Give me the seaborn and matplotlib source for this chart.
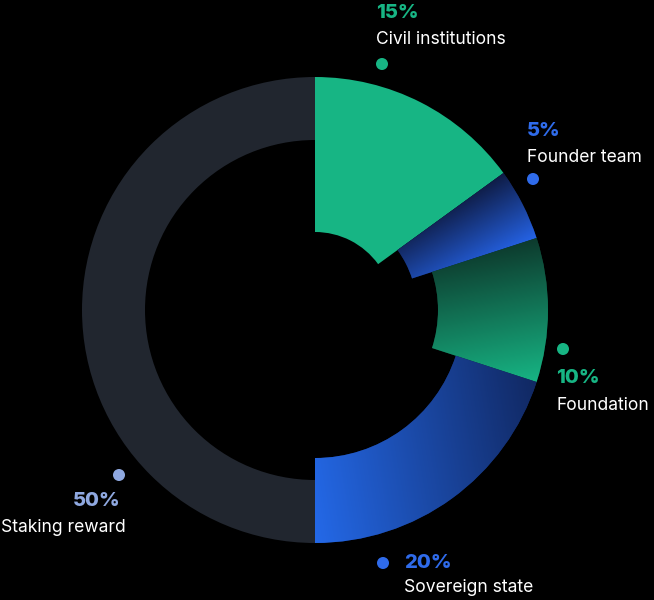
import numpy as np
import matplotlib
matplotlib.use("Agg")
import matplotlib.pyplot as plt
import seaborn as sns
from matplotlib.patches import Wedge
from matplotlib.colors import LinearSegmentedColormap

# Data (clockwise from 12 o'clock)
categories = ["Civil institutions", "Founder team", "Foundation", "Sovereign state", "Staking reward"]
shares = [15, 5, 10, 20, 50]

# Styling per slice
inner_radius = [78, 102, 123, 148, 170]
dark_colors = ["#17b584", "#0f1c45", "#0d3a2d", "#112862", "#21262f"]
bright_colors = ["#17b584", "#2563e6", "#17b584", "#2469e8", "#21262f"]
grad_angle = [None, -60, -80, 190, None]   # direction dark -> bright (deg)
pct_colors = ["#17b584", "#2f6bea", "#17b584", "#2f6bea", "#8fa8e0"]
# label anchors in pixels (x, y from top): dot, percent, name
dot_xy = [(382, 64), (533, 179), (563, 349), (383, 563), (119, 475)]
pct_xy = [(376, 13), (527, 131), (556, 378), (404, 563), (73, 501)]
name_xy = [(376, 40), (527, 158), (556, 405), (404, 588), (1, 527)]

W, H = 654, 600
CX, CY, R = 315, H - 310, 233

sns.set_theme(style="dark", rc={"figure.facecolor": "black", "axes.facecolor": "black"})
plt.rcParams["font.family"] = ["Inter", "DejaVu Sans"]

fig = plt.figure(figsize=(W / 100, H / 100), dpi=100)
ax = fig.add_axes([0, 0, 1, 1])
ax.set_xlim(0, W)
ax.set_ylim(0, H)
ax.set_aspect("equal")
ax.axis("off")

xx, yy = np.meshgrid(np.arange(W) + 0.5, np.arange(H) + 0.5)

total = float(sum(shares))
start = 0.0
for i, (cat, val) in enumerate(zip(categories, shares)):
    end = start + val / total
    t1 = 90 - 360 * end
    t2 = 90 - 360 * start
    wedge = Wedge((CX, CY), R, t1, t2, width=R - inner_radius[i],
                  facecolor=bright_colors[i] if grad_angle[i] is None else dark_colors[i],
                  edgecolor="none", antialiased=True)
    ax.add_patch(wedge)
    if grad_angle[i] is not None:
        a = np.deg2rad(grad_angle[i])
        d = np.array([np.cos(a), np.sin(a)])
        verts = wedge.get_path().vertices
        proj = verts @ d
        field = (xx * d[0] + yy * d[1] - proj.min()) / (proj.max() - proj.min())
        cmap = LinearSegmentedColormap.from_list(f"g{i}", [dark_colors[i], bright_colors[i]])
        im = ax.imshow(np.clip(field, 0, 1), cmap=cmap, vmin=0, vmax=1,
                       extent=(0, W, 0, H), origin="lower", interpolation="bilinear", zorder=2)
        clip = Wedge((CX, CY), R, t1, t2, width=R - inner_radius[i],
                     facecolor="none", edgecolor="none", transform=ax.transData)
        im.set_clip_path(clip)
    start = end

# Labels
for i, (cat, val) in enumerate(zip(categories, shares)):
    dx, dy = dot_xy[i]
    ax.scatter([dx], [H - dy], s=75, color=pct_colors[i], edgecolor="none", zorder=5)
    px, py = pct_xy[i]
    ax.text(px, H - py, f"{val}%", color=pct_colors[i], fontsize=14.5, fontweight="heavy",
            ha="left", va="center", zorder=5)
    nx, ny = name_xy[i]
    ax.text(nx, H - ny, cat, color="white", fontsize=12.6, ha="left", va="center", zorder=5)

fig.savefig("out.png", dpi=100, facecolor="black")
